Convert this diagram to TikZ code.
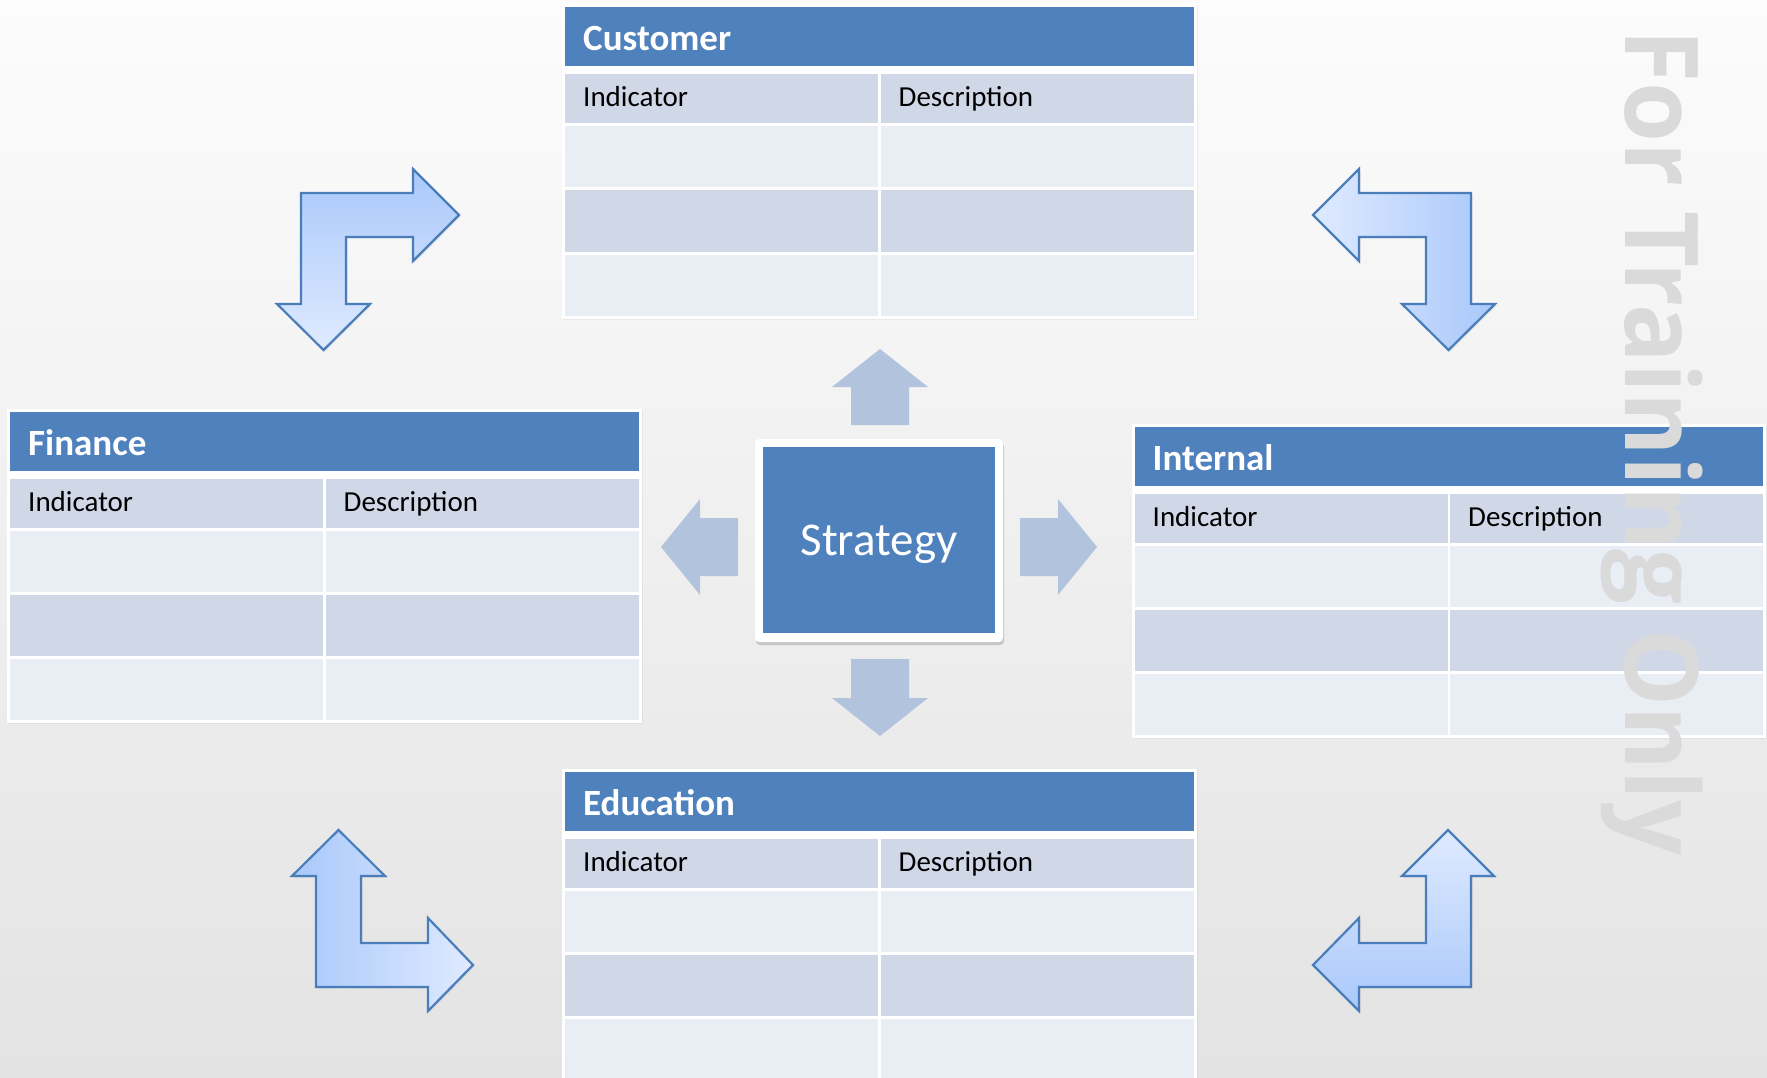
\documentclass[tikz,border=0pt]{standalone}
\usepackage{fontspec}
\setmainfont{Carlito}
\newfontfamily\wmfont{Open Sans}
\usetikzlibrary{shadows}
\definecolor{hdrblue}{HTML}{4F81BD}
\definecolor{rowdark}{HTML}{D0D8E8}
\definecolor{rowlight}{HTML}{E9EDF4}
\definecolor{smallarrow}{HTML}{B2C3DD}
\definecolor{bentline}{HTML}{4A7EBB}
\definecolor{bentdark}{HTML}{A9C8FA}
\definecolor{bentlight}{HTML}{DFEAFF}
\definecolor{wmgray}{HTML}{DADADA}
\definecolor{bgtop}{HTML}{FCFCFC}
\definecolor{bgbottom}{HTML}{E3E3E3}
\tikzset{
  titletext/.style={font=\fontsize{37}{44}\selectfont\bfseries, text=white, inner sep=0pt, anchor=base west},
  headtext/.style={font=\fontsize{29}{35}\selectfont, text=black, inner sep=0pt, anchor=base west},
  bentarrow/.style={draw=bentline, line width=2.2pt, line join=miter,
     drop shadow={opacity=0.18, shadow xshift=1.5pt, shadow yshift=-1.5pt}},
  smallarr/.style={fill=smallarrow},
  tableframe/.style={fill=white, drop shadow={opacity=0.10, shadow xshift=1pt, shadow yshift=-1pt}},
  wm/.style={font=\wmfont\bfseries\fontsize{102}{120}\selectfont, text=wmgray, inner sep=0pt}
}
\newcommand\kpitable[4]{%
  \begin{scope}[shift={(#2,#3)}]
    \path[tableframe] (-3,-3) rectangle (631.5,311);
    \fill[hdrblue]  (0,0) rectangle (628.5,58.5);
    \fill[rowdark]  (0,66.5) rectangle (313,115.5);
    \fill[rowdark]  (315.5,66.5) rectangle (628.5,115.5);
    \fill[rowlight] (0,118.5) rectangle (313,180);
    \fill[rowlight] (315.5,118.5) rectangle (628.5,180);
    \fill[rowdark]  (0,183) rectangle (313,244);
    \fill[rowdark]  (315.5,183) rectangle (628.5,244);
    \fill[rowlight] (0,247) rectangle (313,308);
    \fill[rowlight] (315.5,247) rectangle (628.5,308);
    \node[titletext] (#1-title) at (18,43) {#4};
    \node[headtext] (#1-ind) at (18,99.5) {Indicator};
    \node[headtext] (#1-desc) at (333.5,99.5) {Description};
  \end{scope}}
\begin{document}
\begin{tikzpicture}[x=1pt,y=-1pt]
\useasboundingbox (0,0) rectangle (1767,1078);
\clip (0,0) rectangle (1767,1078);
\shade[top color=bgtop, bottom color=bgbottom] (0,0) rectangle (1767,1078);

% bent arrows
\path[bentarrow, top color=bentdark, bottom color=bentlight]
  (301,193) -- (413,193) -- (413,169) -- (459,215) -- (413,261) -- (413,237)
  -- (346,237) -- (346,304) -- (370,304) -- (323.5,350) -- (277,304) -- (301,304) -- cycle;
\path[bentarrow, left color=bentlight, right color=bentdark]
  (1471,193) -- (1359,193) -- (1359,169) -- (1313,215) -- (1359,261) -- (1359,237)
  -- (1426,237) -- (1426,304) -- (1402,304) -- (1448.5,350) -- (1495,304) -- (1471,304) -- cycle;
\path[bentarrow, left color=bentdark, right color=bentlight]
  (338.5,830) -- (385,876) -- (361,876) -- (361,943) -- (428,943) -- (428,918)
  -- (473,965) -- (428,1011) -- (428,987) -- (316,987) -- (316,876) -- (292,876) -- cycle;
\path[bentarrow, top color=bentlight, bottom color=bentdark]
  (1448,830) -- (1494,876) -- (1471,876) -- (1471,987) -- (1359,987) -- (1359,1011)
  -- (1313,965) -- (1359,918) -- (1359,943) -- (1426,943) -- (1426,876) -- (1402,876) -- cycle;

% small arrows round the strategy box
\fill[smallarr] (851,425) -- (851,387) -- (832,387) -- (880,349) -- (928,387) -- (909,387) -- (909,425) -- cycle;
\fill[smallarr] (851,659) -- (909,659) -- (909,698) -- (928,698) -- (880,736) -- (832,698) -- (851,698) -- cycle;
\fill[smallarr] (1020,518) -- (1058,518) -- (1058,499) -- (1097,547) -- (1058,595) -- (1058,576) -- (1020,576) -- cycle;
\fill[smallarr] (738,518) -- (700,518) -- (700,499) -- (661,547) -- (700,595) -- (700,576) -- (738,576) -- cycle;

% tables
\kpitable{customer}{565}{7.5}{Customer}
\kpitable{finance}{10}{412.3}{Finance}
\kpitable{internal}{1134.5}{427}{Internal}
\kpitable{education}{565}{772.3}{Education}

% strategy box
\fill[white, rounded corners=4pt, drop shadow={opacity=0.35, shadow xshift=1pt, shadow yshift=-3pt}] (755,439) rectangle (1003,642);
\fill[hdrblue] (763,447) rectangle (995,633);
\node[font=\fontsize{47}{56}\selectfont, text=white, inner sep=0pt, anchor=base] (strategy) at (879,555) {Strategy};

% watermark
\node[wm, rotate=-90, anchor=base west] (watermark) at (1625,29) {\scalebox{0.95}[1]{For Training Only}};
\end{tikzpicture}
\end{document}
